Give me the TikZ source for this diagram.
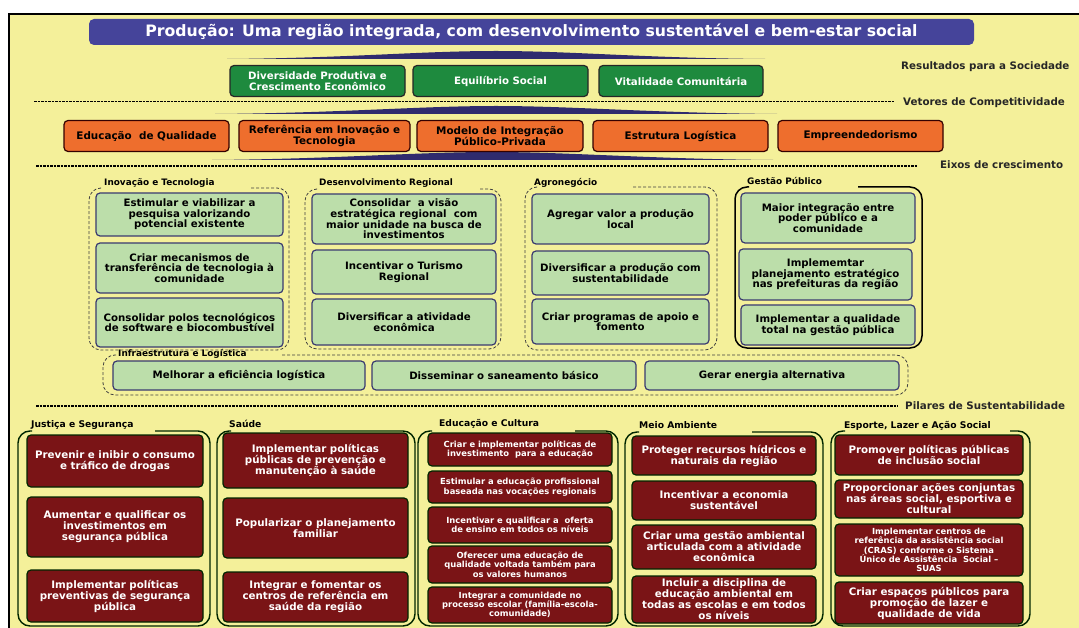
\documentclass[tikz,border=0pt]{standalone}
\usepackage{fontspec}
\setmainfont{DejaVu Sans}
\definecolor{fundo}{RGB}{244,240,154}
\definecolor{azultit}{RGB}{69,68,154}
\definecolor{azulfaixa}{RGB}{47,43,110}
\definecolor{verderes}{RGB}{30,138,62}
\definecolor{laranja}{RGB}{238,110,45}
\definecolor{verdeclaro}{RGB}{188,222,170}
\definecolor{bordaeixo}{RGB}{58,58,112}
\definecolor{vinho}{RGB}{122,20,22}
\tikzset{
  sz/.style 2 args={minimum width=#1, minimum height=#2},
  caixa/.style={rounded corners=4pt, inner sep=1pt, align=center, line width=1.2pt},
  resbox/.style={caixa, fill=verderes, draw=black!85, text=white, font=\bfseries\fontsize{10.2}{10.6}\selectfont},
  vetbox/.style={caixa, fill=laranja, draw=black!80!red, text=black, font=\bfseries\fontsize{10.4}{10.8}\selectfont},
  eixobox/.style={caixa, fill=verdeclaro, draw=bordaeixo, text=black, font=\bfseries\fontsize{10.2}{10.6}\selectfont},
  pilarbox/.style={caixa, fill=vinho, draw=black!85!green, text=white, font=\bfseries\fontsize{10.3}{11}\selectfont},
  pilarmenor/.style={pilarbox, font=\bfseries\fontsize{8.4}{9.3}\selectfont},
  grupo/.style={draw=black!75, line width=0.8pt, densely dashed, rounded corners=12pt},
  gruposolido/.style={draw=black, line width=1.5pt, rounded corners=12pt},
  grupopilar/.style={draw=black!85!green, line width=1.4pt, rounded corners=12pt},
  rotgrupo/.style={anchor=west, inner sep=1pt, font=\bfseries\fontsize{8.9}{10}\selectfont},
  rotpilar/.style={rotgrupo, font=\bfseries\fontsize{9.2}{10}\selectfont},
  rotnivel/.style={anchor=west, inner sep=0pt, text=black!85, font=\bfseries\fontsize{10.3}{12}\selectfont},
  separador/.style={line width=1.1pt, dash pattern=on 2.5pt off 1pt},
  faixa/.style={fill=azulfaixa},
}
\begin{document}
\begin{tikzpicture}[x=1pt,y=-1pt]
\clip (0,0) rectangle (1079,628);
\fill[white] (0,0) rectangle (1079,628);
\fill[fundo] (9,14) rectangle (1079,628);
\draw[line width=2.5pt] (9,630) -- (9,14) -- (1080,14);

% titulo
\node[fill=azultit, rounded corners=5pt, sz={885}{26}, text=white, font=\bfseries\fontsize{15.7}{17}\selectfont] (titulo) at (531.5,32) {Produção: Uma região integrada, com desenvolvimento sustentável e bem-estar social};

% faixas
\fill[faixa] (227,59) .. controls (350,58) and (420,51) .. (496,51) .. controls (572,51) and (642,58) .. (765,59) -- cycle;
\fill[faixa] (215,114) .. controls (340,113) and (420,106) .. (496,106) .. controls (572,106) and (652,113) .. (777,114) -- cycle;
\fill[faixa] (212,160) .. controls (335,159) and (415,152) .. (492,152) .. controls (569,152) and (650,159) .. (773,160) -- cycle;

% resultados
\node[resbox, sz={175}{31}] (div) at (317.5,81) {Diversidade Produtiva e\\Crescimento Econômico};
\node[resbox, sz={175}{31}] (equi) at (500.5,81) {Equilíbrio Social};
\node[resbox, sz={164}{31}] (vita) at (681,81) {Vitalidade Comunitária};
\node[rotnivel] (nres) at (901,67) {Resultados para a Sociedade};

\draw[separador] (34,101.5) -- (894,101.5);
\node[rotnivel] (nvet) at (903,103) {Vetores de Competitividade};

% vetores
\node[vetbox, sz={165}{31}] (educ) at (146.5,136) {Educação \ de Qualidade};
\node[vetbox, sz={171}{31}] (refi) at (324.5,136) {Referência em Inovação e\\Tecnologia};
\node[vetbox, sz={166}{31}] (mode) at (500,136) {Modelo de Integração\\Público-Privada};
\node[vetbox, sz={175}{31}] (estr) at (680.5,136) {Estrutura Logística};
\node[vetbox, sz={165}{31}] (empr) at (860.5,136) {Empreendedorismo};

\draw[separador] (36,166) -- (918,166);
\node[rotnivel] (neix) at (940,165) {Eixos de crescimento};

% eixos
\draw[grupo] (251,188) -- (289,188) -- (289,350) -- (89,350) -- (89,188) -- (103,188);
\node[rotgrupo] (linov) at (103,183) {Inovação e Tecnologia};
\node[eixobox, sz={187}{43}] (in1) at (189.5,214.5) {Estimular e viabilizar a\\pesquisa valorizando\\potencial existente};
\node[eixobox, sz={187}{50}] (in2) at (189.5,268) {Criar mecanismos de\\transferência de tecnologia à\\comunidade};
\node[eixobox, sz={187}{49}] (in3) at (189.5,322.5) {Consolidar polos tecnológicos\\de software e biocombustível};

\draw[grupo] (480,189) -- (501,189) -- (501,349) -- (305,349) -- (305,189) -- (319,189);
\node[rotgrupo] (ldes) at (318,183) {Desenvolvimento Regional};
\node[eixobox, sz={184}{50}] (de1) at (404,219) {Consolidar \ a visão\\estratégica regional \ com\\maior unidade na busca de\\investimentos};
\node[eixobox, sz={184}{44}] (de2) at (404,272) {Incentivar o Turismo\\Regional};
\node[eixobox, sz={184}{46}] (de3) at (404,322) {Diversificar a atividade\\econômica};

\draw[grupo] (633,187) -- (717,187) -- (717,350) -- (525,350) -- (525,187) -- (539,187);
\node[rotgrupo] (lagr) at (533,183) {Agronegócio};
\node[eixobox, sz={177}{50}] (ag1) at (620.5,219) {Agregar valor a produção\\local};
\node[eixobox, sz={177}{44}] (ag2) at (620.5,273) {Diversificar a produção com\\sustentabilidade};
\node[eixobox, sz={177}{45}] (ag3) at (620.5,321.5) {Criar programas de apoio e\\fomento};

\draw[gruposolido] (858,187) -- (922,187) -- (922,348) -- (735,348) -- (735,187) -- (749,187);
\node[rotgrupo] (lges) at (746,181) {Gestão Público};
\node[eixobox, sz={174}{50}] (ge1) at (828,218) {Maior integração entre\\poder público e a\\comunidade};
\node[eixobox, sz={173}{51}] (ge2) at (825.5,274.5) {Implememtar\\planejamento estratégico\\nas prefeituras da região};
\node[eixobox, sz={174}{40}] (ge3) at (828,325) {Implementar a qualidade\\total na gestão pública};

\draw[grupo] (282,355) -- (908,355) -- (908,395) -- (103,395) -- (103,355) -- (117,355);
\node[rotgrupo] (linf) at (117,354) {Infraestrutura e Logística};
\node[eixobox, sz={252}{29}] (if1) at (239,375.5) {Melhorar a eficiência logística};
\node[eixobox, sz={264}{29}] (if2) at (504,375.5) {Disseminar o saneamento básico};
\node[eixobox, sz={254}{29}] (if3) at (772,375.5) {Gerar energia alternativa};

\draw[separador] (36,406) -- (898,406);
\node[rotnivel] (npil) at (905,406) {Pilares de Sustentabilidade};

% pilares
\draw[grupopilar] (155,431) -- (210,431) -- (210,626) -- (18,626) -- (18,431) -- (32,431);
\node[rotpilar] (ljus) at (30,425) {Justiça e Segurança};
\node[pilarbox, sz={176}{52}] (ju1) at (115,461) {Prevenir e inibir o consumo\\e tráfico de drogas};
\node[pilarbox, sz={176}{60}] (ju2) at (115,527) {Aumentar e qualificar os\\investimentos em\\segurança pública};
\node[pilarbox, sz={176}{52}] (ju3) at (115,596) {Implementar políticas\\preventivas de segurança\\pública};

\draw[grupopilar] (280,431) -- (415,431) -- (415,626) -- (217,626) -- (217,431) -- (231,431);
\node[rotpilar] (lsau) at (228,424) {Saúde};
\node[pilarbox, sz={185}{55}] (sa1) at (315.5,460.5) {Implementar políticas\\públicas de prevenção e\\manutenção à saúde};
\node[pilarbox, sz={185}{60}] (sa2) at (315.5,528) {Popularizar o planejamento\\familiar};
\node[pilarbox, sz={185}{50}] (sa3) at (315.5,597) {Integrar e fomentar os\\centros de referência em\\saúde da região};

\draw[grupopilar] (575,431) -- (618,431) -- (618,626) -- (418,626) -- (418,431) -- (432,431);
\node[rotpilar] (ledu) at (438,424) {Educação e Cultura};
\node[pilarmenor, sz={184}{33}] (ed1) at (520,449.5) {Criar e implementar políticas de\\investimento \ para a educação};
\node[pilarmenor, sz={184}{32}] (ed2) at (520,487) {Estimular a educação profissional\\baseada nas vocações regionais};
\node[pilarmenor, sz={184}{36}] (ed3) at (520,525) {Incentivar e qualificar a \ oferta\\de ensino em todos os níveis};
\node[pilarmenor, sz={184}{37}] (ed4) at (520,564.5) {Oferecer uma educação de\\qualidade voltada também para\\os valores humanos};
\node[pilarmenor, sz={184}{36}] (ed5) at (520,605) {Integrar a comunidade no\\processo escolar (família-escola-\\comunidade)};

\draw[grupopilar] (752,432) -- (823,432) -- (823,626) -- (625,626) -- (625,432) -- (639,432);
\node[rotpilar] (lmei) at (638,425) {Meio Ambiente};
\node[pilarbox, sz={184}{39}] (me1) at (724,455.5) {Proteger recursos hídricos e\\naturais da região};
\node[pilarbox, sz={184}{39}] (me2) at (724,500.5) {Incentivar a economia\\sustentável};
\node[pilarbox, sz={184}{44}] (me3) at (724,547) {Criar uma gestão ambiental\\articulada com a atividade\\econômica};
\node[pilarbox, sz={184}{47}] (me4) at (724,599.5) {Incluir a disciplina de\\educação ambiental em\\todas as escolas e em todos\\os níveis};

\draw[grupopilar] (1010,431) -- (1030,431) -- (1030,626) -- (831,626) -- (831,431) -- (845,431);
\node[rotpilar] (lesp) at (843,426) {Esporte, Lazer e Ação Social};
\node[pilarbox, sz={188}{40}] (es1) at (929,455) {Promover políticas públicas\\de inclusão social};
\node[pilarbox, sz={188}{38}] (es2) at (929,499) {Proporcionar ações conjuntas\\nas áreas social, esportiva e\\cultural};
\node[pilarmenor, sz={188}{52}] (es3) at (929,550) {Implementar centros de\\referência da assistência social\\(CRAS) conforme o Sistema\\Único de Assistência \ Social –\\SUAS};
\node[pilarbox, sz={188}{42}] (es4) at (929,603) {Criar espaços públicos para\\promoção de lazer e\\qualidade de vida};
\end{tikzpicture}
\end{document}
